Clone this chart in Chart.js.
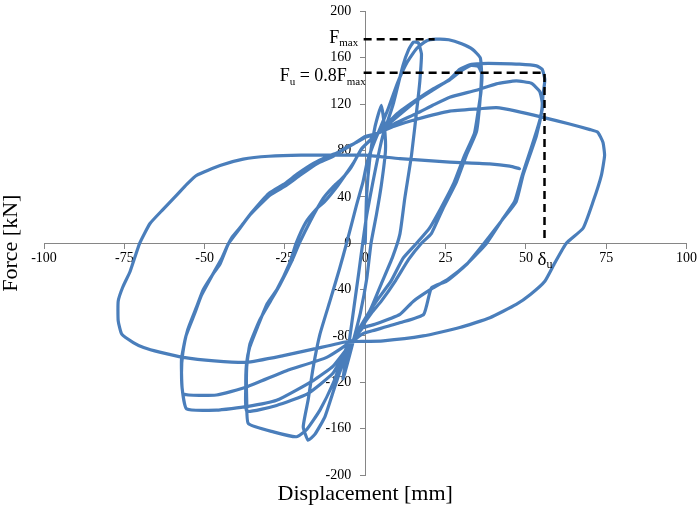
<!DOCTYPE html>
<html>
<head>
<meta charset="utf-8">
<script src="https://cdn.jsdelivr.net/npm/chart.js@4.4.0/dist/chart.umd.min.js"></script>
<style>
html,body{margin:0;padding:0;background:#fff;}
#wrap{width:699px;height:517px;}
</style>
</head>
<body>
<div id="wrap"><canvas id="c" width="699" height="517"></canvas></div>
<script>
// ---- Data (hysteresis loops, in drawing order) ----
const displacementMm = [
  // cycle 1
  0,0.4,1.5,3,5, 6,6.3,5,3.5,1.8,0.5,-1.5,-3.5,-5,-6.9, -6.3,-5,-3.5,-2,-0.8,0.5,
  // cycle 2
  2.4,4,5.5,8.6,11.7,13.5,15,16.5,17.5, 17,16.4,14.4,12.3,10.8,8.5,5,2,-1,-3.5,
  -5.5,-7.4,-9.5,-12.6,-15.7,-17.8, -19.3,-17.8,-16.2,-14.1,-11,-8,-5.8,-2.7,-0.7,0.6,2.5,4,
  // cycle 3
  7,10,13,16,19,22,26,30,33.5,35.8, 36.2,35.6,34.6,31.5,28.4,24.2,20.5,17.5, 13.5,9.5,5,2,-1,-3.5,
  -5.8,-10,-14.1,-18.3,-21.4,-28.6,-36.4,
  -36.9,-36.9,-35.9,-32.8,-29.5,-26.6,-22.8,-20.5,-17.2,-13.1,-10,-7.5,-4.5,-1.2,2,4,
  // cycle 4
  10,16,21,26.3,29.5,31.5,33,35.2,36.3,36, 35.2,34,30.8,27.6,23.5,20,16,11.8,8,3.5, 1.4,-1.5,-3.8,
  -6,-10,-18,-27.6,-36.9,
  -37.2,-37,-36,-33.5,-30.5,-27.5,-23.5,-21.5,-18.5,-15,-12.6,-9,-6.3,-3.5,-1.2,1.5,4,
  // cycle 5
  9,16,21,26.3,29.4,32.5,36,41.9,48,53.3, 55.1,55.9,55.3,55.1,53.3,51.2,49.1,47,43,37.2,
  31.5,25.3,20.6,18.2,11,3,-0.7,-4,
  -10,-16.2,-27.6,-36.9,-46.3,-55.6,
  -57,-57.2,-55.8,-53,-51,-47.5,-44.5,-42.5,-39,-35.9, -29.7,-24.5,-20.3,-15.1,-10,-6.3,-2,0,4,
  // cycle 6
  9,16,21,26.3,34.6,40.8,47,51.7,54.3,55.1, 54.5,52.8,50.8,48.8,46.5,42.9,37.8,32,25.8,21.1,
  15,10.8,3,-0.7,-4,
  -12,-24.5,-36.9,-46.3,-56.6,
  -57.2,-56.8,-55.3,-52.5,-50.4,-47,-45.2,-43,-41.5,-38.5, -35.5,-30,-25,-21,-16,-11.5,-7.9,-4,0,4,
  // cycle 7
  9,16,26.3,35.6,40.8,47,55.3,63.6,70,72.4, 74,74.5,73.5,70.9,67.8,62.6,59,55.9,51.5,47,
  38.8,29.4,18,5.6,-2.7,-5.8,-16.2,-25.5,-36.9,-47, -56.6,-64,-69,-72.2,-75.8,-76.9,-76.9,-75.5,-73.2,-70.2,
  -67,-63,-58.7,-55.5,-52.5,-45.2,-38,-30,-20,-8, 0,10.8,26.3,38.7,45,48
];
const forceKn = [
  // cycle 1
  0,40,75,100,119, 100,80,50,25,0,-30,-60,-82,-98,-117, -105,-85,-55,-25,0,25,
  // cycle 2
  53,75,93,119,153,167,173.5,173,163, 140,124,76,38.6,8,-12,-35,-55,-72,-84,
  -92,-107,-124,-150,-165,-170, -158.5,-135.6,-107,-78.5,-50,-22,0,33,52.9,70,85,95,
  // cycle 3
  115,138,156,168,174.5,176,175.5,172,167,160, 147,119,96,76,53,30,8,0, -14,-32,-50,-60,-72,-84,
  -90,-121,-144,-161,-167,-162.8,-155.6,
  -135.6,-107,-87,-66,-50,-36,-15,0,18.6,38.6,48.6,55,65,81.4,90,95,
  // cycle 4
  112,124,133,141,148,151.5,153.4,152.5,146,130, 115,95,75,52,30,13,0,-12.9,-32.8,-50, -58.6,-72,-84,
  -92,-112,-130,-140,-145,
  -125,-105,-90,-72,-52,-40,-17,0,18,30,36,48,58.6,70,81,89,95,
  // cycle 5
  107,123,132,141.5,150,154,155,155,154.5,153, 150,141,127,115.7,92.9,75.7,58.6,36,21.4,0.6,
  -18.5,-32.8,-38.6,-61.4,-68.5,-75,-78,-85,
  -106,-118.5,-135.6,-141,-144,-143,
  -125,-100,-80,-60,-45,-27,-12,0,12.9,24.3, 41.4,50,58.6,68.5,75,82,88,91.4,95,
  // cycle 6
  103,112,119,126,132,137.5,140,138,131,121, 108,92,75,58,36,21.4,0,-17,-31,-38.6,
  -50,-61.4,-70,-73,-84,
  -98.5,-110,-124,-131,-130,
  -112,-95,-75,-55,-40,-25,-18,-3,5,15, 26,43,51.5,60,69,75,79,85,92,95,
  // cycle 7
  101,107,114,116,117,114,108.6,102.8,98,95.7, 87,75.7,58.6,35.7,12.9,0,-17,-32.8,-44,-52.8,
  -64.3,-72.8,-80,-84.2,-84.8,-85,-91.4,-97,-102.8,-101.5, -98.5,-94,-90,-85.7,-78.5,-67,-50,-38,-24.4,0,
  17,29,41.5,51,58.6,67,72.5,75,76,76, 76,73,70,68.5,66.5,64.3
];

// reference levels
const FMAX = 176;          // kN
const FMAX_DISP = 21.6;    // mm
const FU = 147;            // kN (0.8 Fmax line as drawn)
const DELTA_U = 55.8;      // mm

// tick labels
const xTickValues = [-100,-75,-50,-25,0,25,50,75,100];
const yTickValues = [-200,-160,-120,-80,-40,0,40,80,120,160,200];

const X_TITLE = 'Displacement [mm]';
const Y_TITLE = 'Force [kN]';

if (displacementMm.length !== forceKn.length) console.error('length mismatch', displacementMm.length, forceKn.length);

const loopData = displacementMm.map((d, i) => ({x: d, y: forceKn[i]}));
const fmaxLine = [{x: -0.5, y: FMAX}, {x: FMAX_DISP, y: FMAX}];
const fuLine = [{x: -0.5, y: FU}, {x: DELTA_U, y: FU}, {x: DELTA_U, y: 4}];

const SERIF = '"Liberation Serif", "Times New Roman", serif';

function drawRich(ctx, parts, x, baseline, align) {
  let total = 0;
  parts.forEach(p => { ctx.font = p.font; total += ctx.measureText(p.t).width; });
  let cx = align === 'right' ? x - total : (align === 'center' ? x - total / 2 : x);
  ctx.textAlign = 'left';
  ctx.textBaseline = 'alphabetic';
  parts.forEach(p => {
    ctx.font = p.font;
    ctx.fillText(p.t, cx, baseline + (p.dy || 0));
    cx += ctx.measureText(p.t).width;
  });
}

const annotationPlugin = {
  id: 'annotTexts',
  afterDraw(chart) {
    const ctx = chart.ctx;
    const xs = chart.scales.x, ys = chart.scales.y;
    const area = chart.chartArea;
    const MAIN = '18px ' + SERIF, SUB = '11px ' + SERIF;
    ctx.save();
    ctx.fillStyle = '#000';
    const x0 = xs.getPixelForValue(0);
    drawRich(ctx, [{t: 'F', font: MAIN}, {t: 'max', font: SUB, dy: 3.5}], x0 - 7, ys.getPixelForValue(FMAX) + 3.5, 'right');
    drawRich(ctx, [{t: 'F', font: MAIN}, {t: 'u', font: SUB, dy: 4}, {t: ' = 0.8F', font: MAIN}, {t: 'max', font: SUB, dy: 4}],
      x0 + 0.5, ys.getPixelForValue(FU) + 8, 'right');
    drawRich(ctx, [{t: 'δ', font: '19px ' + SERIF}, {t: 'u', font: '12px ' + SERIF, dy: 3.5}],
      xs.getPixelForValue(DELTA_U) + 0.5, ys.getPixelForValue(0) + 21.5, 'center');
    // axis titles
    ctx.font = '22px ' + SERIF;
    ctx.textAlign = 'center';
    ctx.textBaseline = 'middle';
    ctx.fillText(X_TITLE, (area.left + area.right) / 2, 494);
    ctx.translate(11, (area.top + area.bottom) / 2);
    ctx.rotate(-Math.PI / 2);
    ctx.fillText(Y_TITLE, 0, 0);
    ctx.restore();
  }
};

const AXIS_GRAY = '#868686';
const tickFont = {family: SERIF, size: 14};

new Chart(document.getElementById('c'), {
  type: 'scatter',
  data: {
    datasets: [
      {data: fmaxLine, showLine: true, borderColor: '#000', borderWidth: 2.5, borderDash: [8, 5], pointRadius: 0, fill: false},
      {data: fuLine, showLine: true, borderColor: '#000', borderWidth: 2.5, borderDash: [8, 5], pointRadius: 0, fill: false, borderJoinStyle: 'miter'},
      {data: loopData, showLine: true, borderColor: '#4A7EBB', borderWidth: 3.2, pointRadius: 0, fill: false,
       tension: 0.15, borderJoinStyle: 'round', borderCapStyle: 'round'}
    ]
  },
  options: {
    responsive: false,
    animation: false,
    devicePixelRatio: 1,
    layout: {padding: {left: 44, right: 12, top: 8, bottom: 42}},
    plugins: {legend: {display: false}, tooltip: {enabled: false}, title: {display: false}},
    scales: {
      x: {
        type: 'linear', min: -100, max: 100, position: {y: 0},
        afterBuildTicks: s => { s.ticks = xTickValues.map(v => ({value: v})); },
        ticks: {font: tickFont, color: '#000', padding: 2, maxRotation: 0, autoSkip: false},
        grid: {display: true, drawOnChartArea: false, drawTicks: true, tickLength: 5, color: AXIS_GRAY, lineWidth: 1},
        border: {display: true, color: AXIS_GRAY, width: 1}
      },
      y: {
        type: 'linear', min: -200, max: 200, position: {x: 0},
        afterBuildTicks: s => { s.ticks = yTickValues.map(v => ({value: v})); },
        // centre-positioned axes right-align labels on the axis line; trailing spaces move them clear of the tick marks
        ticks: {font: tickFont, color: '#000', autoSkip: false, callback: v => String(v) + '    '},
        grid: {display: true, drawOnChartArea: false, drawTicks: true, tickLength: 5, color: AXIS_GRAY, lineWidth: 1},
        border: {display: true, color: AXIS_GRAY, width: 1}
      }
    }
  },
  plugins: [annotationPlugin]
});
</script>
</body>
</html>
